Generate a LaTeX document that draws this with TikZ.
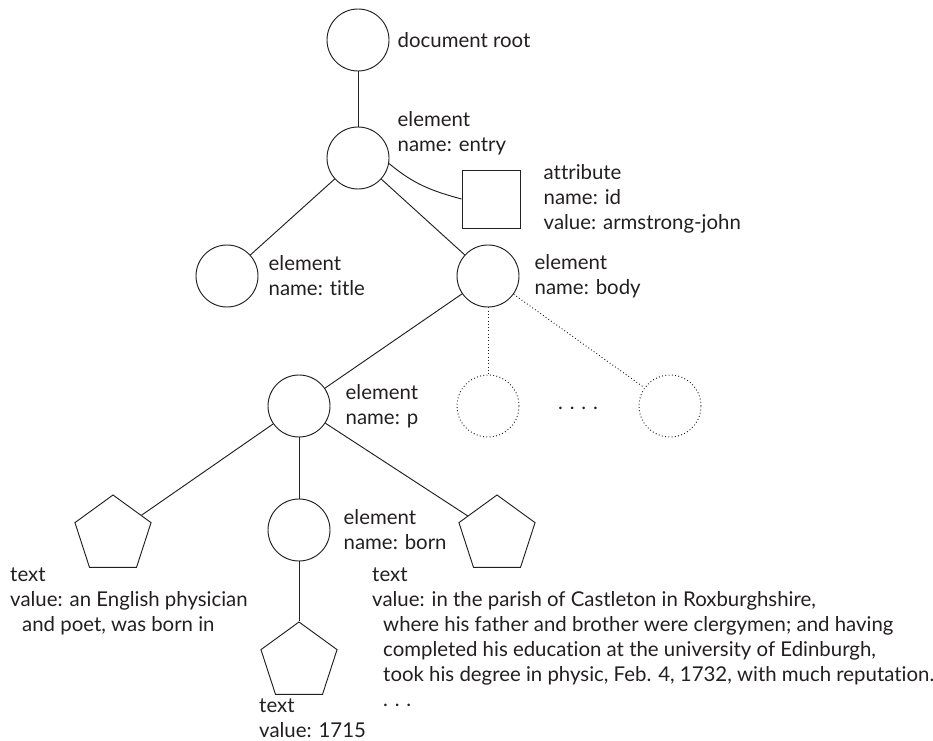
\documentclass[tikz,border=0pt]{standalone}
\usepackage{fontspec}
\setmainfont{Lato}[Ligatures=NoCommon]
\usepackage{tikz}
\usetikzlibrary{shapes.geometric, positioning}
\definecolor{ink}{HTML}{231F20}

\begin{document}
\begin{tikzpicture}[x=0.03cm, y=-0.03cm,
    elem/.style={draw=ink, line width=0.8pt, circle, minimum size=1.86cm, inner sep=0pt},
    ghost/.style={elem, dotted},
    attr/.style={draw=ink, line width=0.8pt, rectangle, minimum size=1.74cm, inner sep=0pt},
    txt/.style={draw=ink, line width=0.8pt, regular polygon, regular polygon sides=5, minimum size=2.4cm, inner sep=0pt},
    info/.style={text=ink, align=left, inner sep=0pt, font=\fontsize{17.4}{21.3}\selectfont},
    link/.style={draw=ink, line width=0.8pt},
    faint/.style={link, dotted}
]
    \useasboundingbox (0,0) rectangle (933,741);

    % Elements
    \node[elem] (root) at (358,40) {};
    \node[elem] (entry) at (358,158) {};
    \node[attr] (id) at (491,199) {};
    \node[elem] (title) at (227,276) {};
    \node[elem] (body) at (488,276) {};
    \node[elem] (p) at (299,406) {};
    \node[ghost] (more1) at (488,406) {};
    \node[ghost] (more2) at (670,406) {};
    \node[elem] (born) at (299,530) {};

    % Texts
    \node[txt] (txtleft) at (113,535) {};
    \node[txt] (txtright) at (497,535) {};
    \node[txt] (txtyear) at (299,662) {};

    % Labels
    \node[info, right=0.24cm of root] (rootlbl) {document root};
    \node[info, anchor=west] (entrylbl) at ([shift={(0.24cm,0.75cm)}]entry.east) {element\\name: entry};
    \node[info, right=0.69cm of id] (idlbl) {attribute\\name: id\\value: armstrong-john};
    \node[info, right=0.3cm of title] (titlelbl) {element\\name: title};
    \node[info, right=0.45cm of body] (bodylbl) {element\\name: body};
    \node[info, right=0.45cm of p] (plbl) {element\\name: p};
    \node[info, right=0.39cm of born] (bornlbl) {element\\name: born};
    \node[info] (moredots) at (578,408) {.\,\,.\,\,.\,\,.};
    \node[info, anchor=north west] (leftlbl) at (10,568) {text\\value: an English physician\\\hspace*{0.36cm}and poet, was born in};
    \node[info, anchor=north west] (rightlbl) at (372,568) {text\\value: in the parish of Castleton in Roxburghshire,\\\hspace*{0.33cm}where his father and brother were clergymen; and having\\\hspace*{0.33cm}completed his education at the university of Edinburgh,\\\hspace*{0.33cm}took his degree in physic, Feb. 4, 1732, with much reputation.\\\hspace*{0.33cm}.\,\,.\,\,.};
    \node[info, anchor=north west] (yearlbl) at (259,699) {text\\value: 1715};

    % Connections
    \draw[link] (root) -- (entry);
    \draw[link] (entry) -- (title);
    \draw[link] (entry) -- (body);
    \draw[link] (entry.-10) to[out=-40, in=165] (id.west);
    \draw[link] (body) -- (p);
    \draw[faint] (body) -- (more1);
    \draw[faint] (body) -- (more2);
    \draw[link] (p) -- (txtleft);
    \draw[link] (p) -- (born);
    \draw[link] (p) -- (txtright);
    \draw[link] (born) -- (txtyear);
\end{tikzpicture}
\end{document}
